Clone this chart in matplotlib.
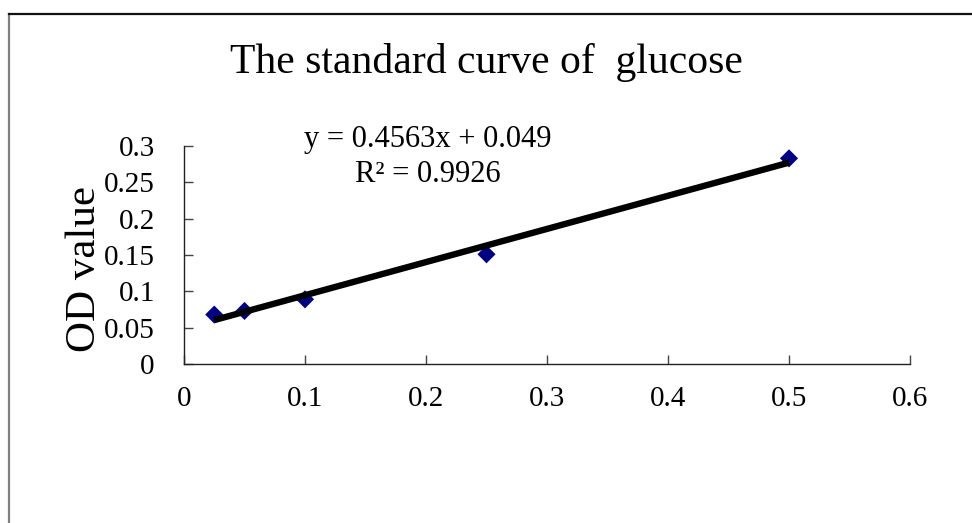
import matplotlib
matplotlib.use("Agg")
import matplotlib.pyplot as plt
from matplotlib.lines import Line2D
import numpy as np

# Data
concentration = [0.025, 0.05, 0.1, 0.25, 0.5]
od_value = [0.068, 0.073, 0.089, 0.151, 0.283]
slope = 0.4563
intercept = 0.049
r_squared = 0.9926
x_ticks = [0, 0.1, 0.2, 0.3, 0.4, 0.5, 0.6]
x_tick_labels = ["0", "0.1", "0.2", "0.3", "0.4", "0.5", "0.6"]
y_ticks = [0, 0.05, 0.1, 0.15, 0.2, 0.25, 0.3]
y_tick_labels = ["0", "0.05", "0.1", "0.15", "0.2", "0.25", "0.3"]

plt.rcParams['font.family'] = ['Liberation Serif', 'DejaVu Serif']

W, H = 972, 523
fig = plt.figure(figsize=(W / 100, H / 100), dpi=100)

# chart border (Excel chart area)
fig.add_artist(Line2D([8.5 / W, 8.5 / W], [0, 1 - 14 / H], transform=fig.transFigure,
                      color="#808080", lw=1.6))
fig.add_artist(Line2D([8.5 / W, 1], [1 - 14 / H, 1 - 14 / H], transform=fig.transFigure,
                      color="#111111", lw=1.6))

ax = fig.add_axes([184 / W, 1 - 364 / H, (910 - 184) / W, (364 - 146) / H])
ax.set_xlim(0, 0.6)
ax.set_ylim(0, 0.3)

trend_x = np.array([min(concentration), max(concentration)])
ax.plot(trend_x, slope * trend_x + intercept, color="black", lw=4.6,
        solid_capstyle="butt", zorder=3)
ax.scatter(concentration, od_value, marker="D", s=85, color="#000080",
           edgecolors="none", zorder=2)

for s in ["top", "right"]:
    ax.spines[s].set_visible(False)
for s in ["left", "bottom"]:
    ax.spines[s].set_linewidth(1.0)
    ax.spines[s].set_color("#222222")

ax.set_xticks(x_ticks)
ax.set_xticklabels(x_tick_labels)
ax.set_yticks(y_ticks)
ax.set_yticklabels(y_tick_labels)
ax.tick_params(axis="both", direction="in", length=6.5, width=1.0, color="#444444",
               labelsize=21)
ax.tick_params(axis="y", pad=21)
ax.tick_params(axis="x", pad=15.5)

ax.set_ylabel("OD value", fontsize=31)
ax.yaxis.set_label_coords(-0.110, 0.436)

fig.text(486 / W, 1 - 62 / H, "The standard curve of  glucose", fontsize=30,
         ha="center", va="center")

eq = f"y = {slope}x + {intercept}\nR² = {r_squared}"
fig.text(428 / W, 1 - 157 / H, eq, fontsize=22, ha="center", va="center",
         linespacing=1.25, multialignment="center")

fig.savefig("out.png", dpi=100)
